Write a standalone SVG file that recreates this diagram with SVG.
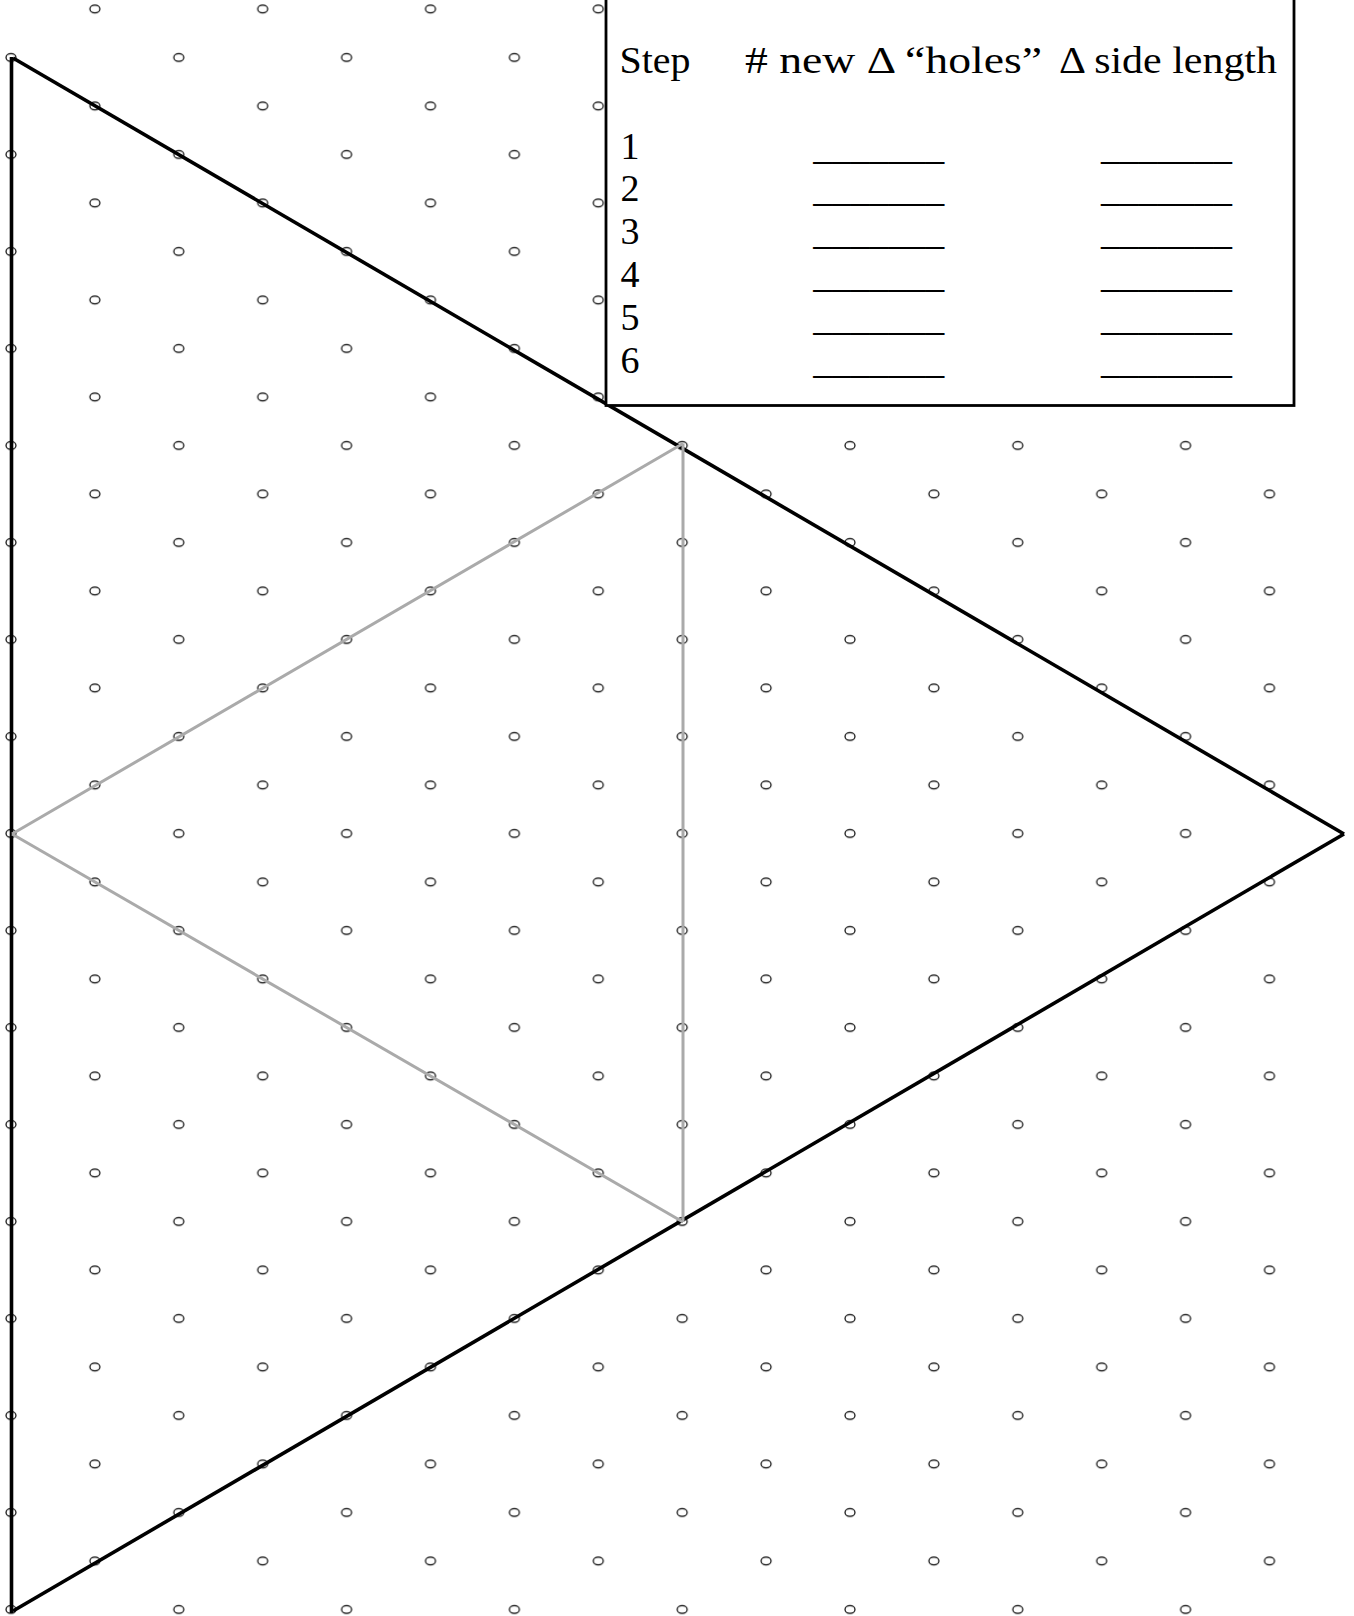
<svg xmlns="http://www.w3.org/2000/svg" xmlns:xlink="http://www.w3.org/1999/xlink" width="1354" height="1616" viewBox="0 0 1354 1616">
<style>
.dot{fill:none;stroke:#000;stroke-width:1.2}
.main{stroke:#000;stroke-width:3.6;stroke-linecap:butt;fill:none}
.inner{stroke:#aaaaaa;stroke-width:3;stroke-linecap:butt;fill:none}
.box{fill:#fff;stroke:#000;stroke-width:2.8}
.t{font-family:"Liberation Serif","Times New Roman",serif;font-size:38px;fill:#000}
</style>
<defs>
<pattern id="lattice" patternUnits="userSpaceOnUse" x="-30.95" y="33.25" width="167.8" height="97">
<ellipse class="dot" cx="41.95" cy="24.25" rx="5" ry="3.9"/>
<ellipse class="dot" cx="125.85" cy="72.75" rx="5" ry="3.9"/>
</pattern>
</defs>
<rect id="background" x="0" y="0" width="1354" height="1616" fill="#fff"/>
<rect id="dot-grid" x="0" y="0" width="1346" height="1616" fill="url(#lattice)"/>
<g id="connectors">
<g id="outer-triangle">
<line class="main" x1="11.5" y1="57" x2="11.5" y2="1613"/>
<line class="main" x1="13" y1="58" x2="1344" y2="834"/>
<line class="main" x1="1344" y1="834" x2="13" y2="1611"/>
</g>
<g id="inner-triangle">
<line class="inner" x1="12" y1="834" x2="683" y2="443.5"/>
<line class="inner" x1="12" y1="834" x2="683" y2="1222"/>
<line class="inner" x1="683" y1="443.5" x2="683" y2="1222"/>
</g>
</g>
<g id="table">
<rect class="box" x="606" y="-10" width="688" height="415.5"/>
<text class="t" x="619.5" y="73.3" textLength="71" lengthAdjust="spacingAndGlyphs">Step</text>
<text class="t" x="745" y="73.3" textLength="297" lengthAdjust="spacingAndGlyphs"># new Δ “holes”</text>
<text class="t" x="1059" y="73.3" textLength="218" lengthAdjust="spacingAndGlyphs">Δ side length</text>
<text class="t" x="620.5" y="158.5">1</text>
<text class="t" x="620.5" y="201.3">2</text>
<text class="t" x="620.5" y="244.1">3</text>
<text class="t" x="620.5" y="286.9">4</text>
<text class="t" x="620.5" y="329.7">5</text>
<text class="t" x="620.5" y="372.5">6</text>
<g id="blanks">
<text class="t" x="813.3" y="158.5" textLength="131" lengthAdjust="spacingAndGlyphs">_______</text>
<text class="t" x="813.3" y="201.3" textLength="131" lengthAdjust="spacingAndGlyphs">_______</text>
<text class="t" x="813.3" y="244.1" textLength="131" lengthAdjust="spacingAndGlyphs">_______</text>
<text class="t" x="813.3" y="286.9" textLength="131" lengthAdjust="spacingAndGlyphs">_______</text>
<text class="t" x="813.3" y="329.7" textLength="131" lengthAdjust="spacingAndGlyphs">_______</text>
<text class="t" x="813.3" y="372.5" textLength="131" lengthAdjust="spacingAndGlyphs">_______</text>
<text class="t" x="1101" y="158.5" textLength="131" lengthAdjust="spacingAndGlyphs">_______</text>
<text class="t" x="1101" y="201.3" textLength="131" lengthAdjust="spacingAndGlyphs">_______</text>
<text class="t" x="1101" y="244.1" textLength="131" lengthAdjust="spacingAndGlyphs">_______</text>
<text class="t" x="1101" y="286.9" textLength="131" lengthAdjust="spacingAndGlyphs">_______</text>
<text class="t" x="1101" y="329.7" textLength="131" lengthAdjust="spacingAndGlyphs">_______</text>
<text class="t" x="1101" y="372.5" textLength="131" lengthAdjust="spacingAndGlyphs">_______</text>
</g>
</g>
</svg>
